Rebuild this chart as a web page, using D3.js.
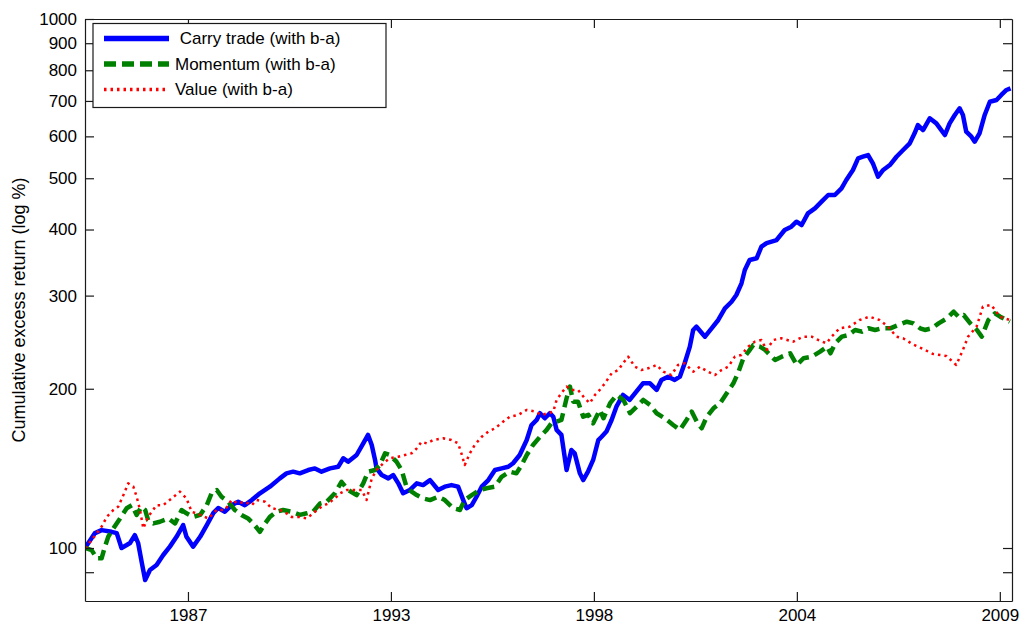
<!DOCTYPE html>
<html>
<head>
<meta charset="utf-8">
<script src="https://cdn.jsdelivr.net/npm/d3@7"></script>
<style>
  html, body { margin: 0; padding: 0; background: #fff; }
  svg { display: block; font-family: "Liberation Sans", Arial, sans-serif; }
  text { white-space: pre; }
</style>
</head>
<body>
<svg id="chart" width="1022" height="628"></svg>
<script>
// ---------------- data ----------------
const seriesNames = [" Carry trade (with b-a)", "Momentum (with b-a)", "Value (with b-a)"];

const carryYears = [1984.71,1984.98,1985.16,1985.43,1985.57,1985.70,1985.84,1985.93,1986.06,1986.15,
1986.25,1986.34,1986.47,1986.65,1986.83,1987.01,1987.19,1987.37,1987.46,1987.64,
1987.83,1988.01,1988.19,1988.32,1988.50,1988.68,1988.86,1989.04,1989.23,1989.45,
1989.72,1989.99,1990.17,1990.35,1990.53,1990.76,1990.94,1991.12,1991.35,1991.57,
1991.71,1991.84,1992.07,1992.25,1992.38,1992.48,1992.57,1992.61,1992.75,1992.93,
1993.06,1993.20,1993.33,1993.51,1993.70,1993.87,1994.06,1994.28,1994.46,1994.64,
1994.82,1994.96,1995.05,1995.19,1995.32,1995.46,1995.64,1995.82,1996.00,1996.18,
1996.31,1996.49,1996.68,1996.81,1996.95,1997.04,1997.17,1997.31,1997.40,1997.49,
1997.62,1997.76,1997.89,1997.98,1998.12,1998.21,1998.34,1998.48,1998.62,1998.71,
1998.84,1998.98,1999.11,1999.29,1999.47,1999.65,1999.83,2000.02,2000.20,2000.33,
2000.51,2000.69,2000.83,2000.96,2001.10,2001.19,2001.28,2001.51,2001.69,2001.87,
2002.05,2002.23,2002.36,2002.50,2002.59,2002.72,2002.91,2003.04,2003.18,2003.45,
2003.67,2003.85,2003.99,2004.13,2004.30,2004.49,2004.67,2004.85,2005.03,2005.21,
2005.34,2005.52,2005.66,2005.79,2005.93,2006.06,2006.20,2006.34,2006.52,2006.70,
2006.88,2007.06,2007.19,2007.28,2007.42,2007.60,2007.78,2008.01,2008.14,2008.28,
2008.41,2008.50,2008.59,2008.73,2008.82,2008.95,2009.09,2009.23,2009.41,2009.54,
2009.68,2009.79];
const carryValues = [100,106.7,108.1,107.3,106.7,100,101.3,102.2,105.8,102.2,
93.7,87.0,90.9,92.9,97.0,100.6,105.0,110.5,105.0,100.6,
105.0,110.5,116.5,119.0,117.1,120.5,122.3,120.5,123.2,126.9,
130.6,135.4,138.4,139.4,138.4,140.4,141.4,139.4,141.4,142.4,
147.8,145.6,149.9,157.7,163.6,156.6,146.7,141.4,137.4,135.4,
137.4,132.5,126.9,128.7,132.5,131.5,134.4,128.7,130.6,131.5,
130.6,123.2,118.9,120.5,125.0,130.6,134.4,140.4,141.4,142.4,
144.6,149.9,160.0,170.8,174.6,179.8,175.9,179.8,177.1,167.2,
163.6,140.4,153.2,151.0,138.4,134.4,139.4,146.7,160.0,162.3,
166.0,174.6,185.0,194.7,190.5,197.5,204.8,204.8,199.0,207.8,
210.8,207.8,210.8,223.5,240.2,258.3,262.0,250.9,260.2,269.8,
283.9,292.1,300.8,316.5,335.4,350.3,352.9,371.2,377.1,382.1,
399.1,404.9,413.8,407.9,429.2,438.6,451.5,464.8,464.8,478.5,
496.2,518.3,545.3,549.1,553.2,533.6,503.4,518.3,529.6,549.1,
565.4,582.1,608.0,630.3,616.8,649.0,635.0,603.5,635.0,658.5,
678.0,658.5,612.3,599.1,586.2,608.0,658.5,697.7,702.9,718.4,
734.2,739.6];

const momYears = [1984.71,1984.89,1985.03,1985.16,1985.25,1985.34,1985.48,1985.66,1985.84,1985.98,
1986.11,1986.24,1986.34,1986.42,1986.56,1986.74,1986.97,1987.15,1987.33,1987.46,
1987.64,1987.83,1988.01,1988.14,1988.28,1988.41,1988.59,1988.77,1988.95,1989.13,
1989.27,1989.45,1989.59,1989.72,1989.90,1990.08,1990.31,1990.53,1990.72,1990.89,
1991.08,1991.26,1991.48,1991.66,1991.84,1992.07,1992.25,1992.38,1992.57,1992.70,
1992.84,1992.97,1993.15,1993.29,1993.42,1993.56,1993.70,1993.87,1994.06,1994.28,
1994.46,1994.69,1994.87,1995.00,1995.19,1995.41,1995.59,1995.82,1996.00,1996.22,
1996.40,1996.54,1996.68,1996.85,1997.04,1997.22,1997.35,1997.49,1997.62,1997.76,
1997.85,1997.94,1998.07,1998.21,1998.35,1998.48,1998.66,1998.76,1998.94,1999.12,
1999.30,1999.48,1999.66,1999.84,2000.02,2000.20,2000.42,2000.65,2000.83,2001.01,
2001.15,2001.29,2001.42,2001.56,2001.74,2001.92,2002.10,2002.28,2002.42,2002.55,
2002.69,2002.82,2003.00,2003.14,2003.41,2003.59,2003.82,2004.00,2004.18,2004.41,
2004.63,2004.82,2004.91,2005.04,2005.22,2005.40,2005.58,2005.76,2005.94,2006.12,
2006.30,2006.53,2006.75,2006.98,2007.16,2007.34,2007.47,2007.66,2007.84,2008.07,
2008.25,2008.38,2008.52,2008.70,2008.88,2009.01,2009.19,2009.37,2009.51,2009.77];
const momValues = [100,99.1,95.6,95.6,100.6,105.0,108.9,113.7,118.9,120.5,
115.5,119.7,118.0,112.9,111.3,112.1,113.7,111.3,118.0,116.3,
114.5,115.5,120.5,126.9,128.7,125.0,122.3,118.0,115.5,113.7,
111.3,107.3,111.3,114.5,117.1,118.0,117.1,115.5,116.3,117.1,
121.4,122.3,126.9,133.4,128.7,125.9,132.5,139.4,140.4,143.5,
151.0,149.9,145.6,140.4,130.6,127.8,125.9,124.1,123.2,125.0,
123.2,118.9,118.0,123.2,125.9,128.7,129.7,130.6,136.3,139.4,
138.4,143.5,149.9,156.6,162.3,167.2,172.1,173.3,174.6,191.9,
201.9,189.1,189.1,177.1,178.5,172.1,182.4,175.9,187.8,194.7,
190.5,179.8,185.0,190.5,186.4,179.8,175.9,170.8,167.2,174.6,
181.1,173.3,168.4,177.1,183.7,187.8,196.2,204.8,215.4,228.4,
235.1,242.0,240.2,236.8,226.7,230.0,233.4,221.8,228.4,230.0,
235.1,240.2,233.4,243.8,250.9,252.7,258.3,256.4,260.2,258.3,
260.2,260.2,264.0,267.8,265.9,260.2,258.3,260.2,265.9,271.8,
279.7,273.7,275.7,265.9,258.3,250.9,269.8,277.8,273.7,267.8];

const valYears = [1984.71,1984.89,1985.03,1985.16,1985.30,1985.48,1985.61,1985.75,1985.88,1986.02,
1986.11,1986.20,1986.29,1986.42,1986.65,1986.83,1987.06,1987.28,1987.46,1987.60,
1987.83,1988.05,1988.28,1988.50,1988.68,1988.86,1989.04,1989.23,1989.36,1989.59,
1989.77,1989.99,1990.17,1990.31,1990.53,1990.72,1990.89,1991.12,1991.30,1991.48,
1991.62,1991.80,1992.02,1992.21,1992.34,1992.48,1992.61,1992.79,1992.97,1993.20,
1993.38,1993.56,1993.70,1993.83,1993.97,1994.15,1994.42,1994.64,1994.82,1994.91,
1995.00,1995.14,1995.27,1995.46,1995.64,1995.82,1996.04,1996.22,1996.45,1996.68,
1996.90,1997.08,1997.26,1997.40,1997.49,1997.62,1997.76,1997.89,1998.07,1998.25,
1998.39,1998.53,1998.62,1998.80,1998.98,1999.16,1999.29,1999.43,1999.61,1999.79,
1999.97,2000.20,2000.38,2000.60,2000.78,2000.96,2001.19,2001.37,2001.59,2001.78,
2001.96,2002.14,2002.32,2002.50,2002.68,2002.86,2003.04,2003.18,2003.36,2003.58,
2003.90,2004.17,2004.40,2004.58,2004.80,2004.94,2005.16,2005.43,2005.70,2005.97,
2006.24,2006.47,2006.70,2006.88,2007.15,2007.42,2007.69,2008.05,2008.32,2008.50,
2008.64,2008.87,2009.04,2009.27,2009.50,2009.77];
const valValues = [100,103.5,106.6,109.7,114.5,118.0,119.7,125.9,132.5,130.6,
125.0,118.0,108.9,114.5,120.5,120.5,124.1,127.8,124.1,117.1,
115.5,113.7,118.0,118.0,123.2,121.4,122.3,120.5,123.2,122.3,
118.9,118.0,116.3,114.5,114.5,113.7,116.3,119.7,121.4,124.1,
126.9,128.7,128.7,128.7,123.2,135.4,140.4,144.6,147.8,148.8,
149.9,151.0,154.3,158.8,157.7,160.0,161.2,160.0,157.7,151.0,
143.5,151.0,156.6,162.3,166.0,168.4,173.3,177.1,178.5,182.4,
181.1,178.5,179.8,181.1,190.5,196.2,201.9,199.0,199.0,191.9,
187.8,194.7,197.5,204.8,213.9,217.0,223.5,230.0,220.1,217.0,
218.6,221.8,215.4,212.3,221.8,223.5,215.4,220.1,215.4,212.3,
217.0,220.1,230.0,231.7,240.2,245.5,247.3,236.8,247.3,249.1,
245.5,250.9,250.9,247.3,243.8,250.9,260.2,262.0,269.8,273.7,
269.8,262.0,250.9,249.1,242.5,237.8,232.7,230.7,221.8,236.8,
250.9,262.0,285.9,288.0,273.7,269.8];

const xDomain = [1984.71, 2009.83];
const yDomain = [79.4, 1000];
const xTickValues = [1987.5, 1993.0, 1998.5, 2004.0, 2009.5];
const xTickLabels = ["1987", "1993", "1998", "2004", "2009"];
const yTickValues = [90, 100, 200, 300, 400, 500, 600, 700, 800, 900, 1000];
const yTickLabels = ["", "100", "200", "300", "400", "500", "600", "700", "800", "900", "1000"];
const yAxisTitle = "Cumulative excess return (log %)";

// ---------------- layout ----------------
const W = 1022, H = 628;
const margin = { left: 85, right: 10, top: 19, bottom: 27 };
const pw = W - margin.left - margin.right;
const ph = H - margin.top - margin.bottom;
const FONT = 17;

const svg = d3.select("#chart");
const x = d3.scaleLinear().domain(xDomain).range([margin.left, margin.left + pw]);
const y = d3.scaleLog().domain(yDomain).range([margin.top + ph, margin.top]);

svg.append("defs").append("clipPath").attr("id", "clip")
  .append("rect").attr("x", margin.left).attr("y", margin.top).attr("width", pw).attr("height", ph);

const series = [
  { name: seriesNames[0], years: carryYears, values: carryValues, color: "#0000ff", width: 4.5, dash: null },
  { name: seriesNames[1], years: momYears, values: momValues, color: "#008000", width: 4.5, dash: "12,6" },
  { name: seriesNames[2], years: valYears, values: valValues, color: "#ff0000", width: 2.5, dash: "2.5,4" }
];

const line = d3.line().x(d => x(d[0])).y(d => y(d[1]));

const plot = svg.append("g").attr("clip-path", "url(#clip)");
series.forEach(s => {
  plot.append("path")
    .datum(d3.zip(s.years, s.values))
    .attr("fill", "none")
    .attr("stroke", s.color)
    .attr("stroke-width", s.width)
    .attr("stroke-linejoin", "round")
    .attr("stroke-dasharray", s.dash)
    .attr("d", line);
});

// ---------------- axes ----------------
const tickLen = 9;
const axisColor = "#1a1a1a";
const bottomAxis = d3.axisBottom(x).tickValues(xTickValues)
  .tickFormat((d, i) => xTickLabels[i]).tickSizeInner(-tickLen).tickSizeOuter(0).tickPadding(8);
const topAxis = d3.axisTop(x).tickValues(xTickValues).tickFormat("").tickSizeInner(-tickLen).tickSizeOuter(0);
const leftAxis = d3.axisLeft(y).tickValues(yTickValues)
  .tickFormat((d, i) => yTickLabels[i]).tickSizeInner(-tickLen).tickSizeOuter(0).tickPadding(8);
const rightAxis = d3.axisRight(y).tickValues(yTickValues).tickFormat("").tickSizeInner(-tickLen).tickSizeOuter(0);

function styleAxis(g) {
  g.selectAll("path").attr("stroke", axisColor).attr("stroke-width", 1.2);
  g.selectAll("line").attr("stroke", axisColor).attr("stroke-width", 1.2);
  g.selectAll("text").attr("fill", "#000").style("font-size", FONT + "px")
    .style("font-family", "'Liberation Sans', Arial, sans-serif");
}
svg.append("g").attr("transform", `translate(0,${margin.top + ph})`).call(bottomAxis).call(styleAxis);
svg.append("g").attr("transform", `translate(0,${margin.top})`).call(topAxis).call(styleAxis);
svg.append("g").attr("transform", `translate(${margin.left},0)`).call(leftAxis).call(styleAxis);
svg.append("g").attr("transform", `translate(${margin.left + pw},0)`).call(rightAxis).call(styleAxis);

// y-axis title
svg.append("text")
  .attr("transform", `translate(25,${margin.top + ph / 2}) rotate(-90)`)
  .attr("text-anchor", "middle")
  .style("font-size", "18px")
  .text(yAxisTitle);

// ---------------- legend ----------------
const lg = svg.append("g").attr("transform", "translate(93,23.5)");
lg.append("rect").attr("width", 293).attr("height", 84)
  .attr("fill", "#fff").attr("stroke", axisColor).attr("stroke-width", 1.2);
series.forEach((s, i) => {
  const cy = 15 + i * 25.5;
  lg.append("line").attr("x1", 11).attr("x2", 76).attr("y1", cy).attr("y2", cy)
    .attr("stroke", s.color).attr("stroke-width", s.width + 0.8).attr("stroke-dasharray", s.dash);
  lg.append("text").attr("x", 82).attr("y", cy).attr("dy", "0.35em")
    .style("font-size", FONT + "px").text(s.name);
});
</script>
</body>
</html>
